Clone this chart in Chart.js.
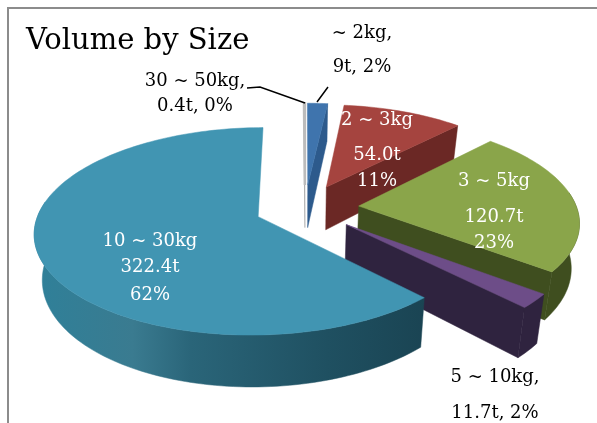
<!DOCTYPE html>
<html><head><meta charset="utf-8">
<style>html,body{margin:0;padding:0;background:#fff}canvas{display:block}</style>
<script src="https://cdn.jsdelivr.net/npm/chart.js@4/dist/chart.umd.min.js"></script>
</head><body><canvas id="c" width="597" height="423"></canvas>
<script>
const categories = ['~ 2kg','2 ~ 3kg','3 ~ 5kg','5 ~ 10kg','10 ~ 30kg','30 ~ 50kg'];
const tonnes = [9, 54.0, 120.7, 11.7, 322.4, 0.4];
const topColors = ['#3f74ad','#a5443f','#8aa54a','#6d4d88','#4195b2','#bcbcbc'];
const sideColors = ['#2d5a8c','#6b2825','#3f4e1f','#2f233f','#1f5062','#9a9a9a'];
const explode = [52,52,54,54,50,52];
const drawOrder = [5,0,1,2,3,4];
const labelTexts = [
  ['10 ~ 30kg','322.4t','62%'],['2 ~ 3kg','54.0t','11%'],['3 ~ 5kg','120.7t','23%'],
  ['~ 2kg,','9t, 2%'],['30 ~ 50kg,','0.4t, 0%'],['5 ~ 10kg,','11.7t, 2%']
];
const labelX = [150,377,494,362,195,495];
const labelY = [[241,267,295],[120,155,181],[181,217,243],[33,67],[81,106],[377,413]];
const labelColor = ['#fff','#fff','#fff','#000','#000','#000'];

const K = 0.14, SQUASH = 0.455, DEPTH = 44, LOW_SHRINK = 0.97;
function project(cx, cy, R, u, v, low) {
  const s = 1 / (1 - K * v / R);
  return [cx + u * s * (low ? LOW_SHRINK : 1), cy + v * SQUASH * s + (low ? DEPTH * s : 0)];
}
const pie3d = {
  id: 'pie3d',
  beforeDraw(chart) {
    const c = chart.ctx; c.save();
    c.fillStyle = '#fff'; c.fillRect(0, 0, 597, 423);
    c.strokeStyle = '#8c8c8c'; c.lineWidth = 2;
    c.beginPath(); c.moveTo(8, 423); c.lineTo(8, 8); c.lineTo(597, 8); c.stroke();
    c.restore();
  },
  beforeDatasetsDraw(chart) {
    const c = chart.ctx, arcs = chart.getDatasetMeta(0).data;
    c.save();
    for (const i of drawOrder) {
      const el = arcs[i], o = el.options;
      const p = el.getProps(['x','y','startAngle','endAngle','outerRadius']);
      const R = p.outerRadius, mid = (p.startAngle + p.endAngle) / 2;
      const ox = Math.cos(mid) * o.offset, oy = Math.sin(mid) * o.offset;
      const pt = (a, r, low) => project(p.x, p.y, R, ox + Math.cos(a) * r, oy + Math.sin(a) * r, low);
      const path = (pts) => { c.beginPath(); pts.forEach((q, j) => j ? c.lineTo(q[0], q[1]) : c.moveTo(q[0], q[1])); c.closePath(); };
      const n = Math.max(2, Math.ceil((p.endAngle - p.startAngle) * 40));
      const top = [], wallTop = [], wallBot = [];
      for (let j = 0; j <= n; j++) {
        const a = p.startAngle + (p.endAngle - p.startAngle) * j / n;
        top.push(pt(a, R, false));
        // the outer wall is only seen on the part of the rim that faces the viewer
        if (Math.sin(a) > -0.15) { wallTop.push(pt(a, R, false)); wallBot.push(pt(a, R, true)); }
      }
      let side = sideColors[i];
      if (i === 4) {
        const g = c.createLinearGradient(35, 0, 425, 0);
        g.addColorStop(0, '#2f8099'); g.addColorStop(0.25, '#3a7b90');
        g.addColorStop(0.4, '#2a6579'); g.addColorStop(0.75, '#1f5061'); g.addColorStop(1, '#1a4453');
        side = g;
      }
      c.fillStyle = side; c.strokeStyle = side; c.lineWidth = 0.5;
      // only the cut faces turned towards the viewer are painted
      [[p.startAngle, -Math.PI / 2], [p.endAngle, Math.PI / 2]].forEach(([a, turn]) => {
        if (Math.sin(a + turn) > 0) {
          path([pt(a, 0, false), pt(a, R, false), pt(a, R, true), pt(a, 0, true)]); c.fill(); c.stroke();
        }
      });
      if (wallTop.length > 1) { path(wallTop.concat(wallBot.reverse())); c.fill(); c.stroke(); }
      c.fillStyle = o.backgroundColor; c.strokeStyle = o.backgroundColor;
      c.lineWidth = i === 5 ? 2.5 : 0.5;
      path([pt(0, 0, false)].concat(top)); c.fill(); c.stroke();
    }
    c.restore();
    return false;
  },
  afterDraw(chart) {
    const c = chart.ctx; c.save();
    c.strokeStyle = '#000'; c.lineWidth = 1.5;
    c.beginPath(); c.moveTo(247, 88); c.lineTo(260, 87); c.lineTo(305, 103);
    c.moveTo(317, 102); c.lineTo(328, 87); c.stroke();
    c.font = '18px "DejaVu Serif"'; c.textAlign = 'center'; c.textBaseline = 'middle';
    labelTexts.forEach((lines, i) => {
      c.fillStyle = labelColor[i];
      lines.forEach((t, j) => c.fillText(t, labelX[i], labelY[i][j]));
    });
    c.restore();
  }
};
new Chart(document.getElementById('c'), {
  type: 'pie',
  data: { labels: categories, datasets: [{ data: tonnes, backgroundColor: topColors, offset: explode, borderWidth: 0 }] },
  options: {
    responsive: false, animation: false, radius: 218, events: [],
    layout: { padding: { left: 26, right: 13, top: 0, bottom: 66 } },
    plugins: {
      legend: { display: false }, tooltip: { enabled: false },
      title: { display: true, text: 'Volume by Size', align: 'start', color: '#000',
        font: { family: '"DejaVu Serif"', size: 29, weight: 'normal' }, padding: { top: 24, bottom: 0 } }
    }
  },
  plugins: [pie3d]
});
</script></body></html>
